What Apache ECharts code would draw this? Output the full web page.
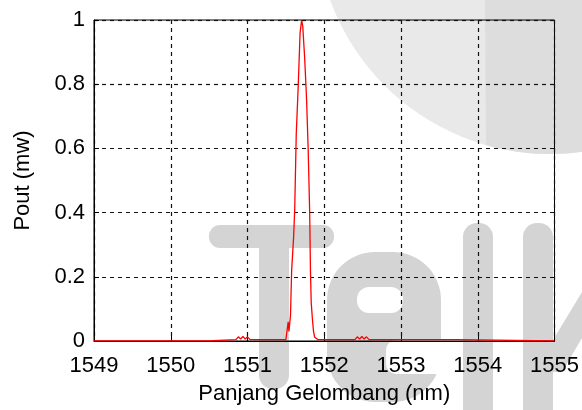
<!DOCTYPE html>
<html>
<head>
<meta charset="utf-8">
<script src="https://cdn.jsdelivr.net/npm/echarts@6/dist/echarts.min.js"></script>
<style>
html,body{margin:0;padding:0;background:#fff;}
#chart{width:582px;height:410px;}
</style>
</head>
<body>
<div id="chart"></div>
<script>
// ---- data ----
var wavelength = [1549, 1550.48, 1550.49, 1550.85, 1550.88, 1550.91, 1550.94, 1550.97, 1551.00, 1551.03, 1551.06,
  1551.50, 1551.52, 1551.53, 1551.54, 1551.56, 1551.575, 1551.60, 1551.615, 1551.635, 1551.66, 1551.685, 1551.705,
  1551.72, 1551.745, 1551.77, 1551.79, 1551.81, 1551.82, 1551.83, 1551.845, 1551.86, 1551.875, 1551.89, 1551.92,
  1552.40, 1552.43, 1552.46, 1552.49, 1552.52, 1552.55, 1552.58, 1552.61, 1553.73, 1553.74, 1555];
var power = [0, 0, 0.004, 0.004, 0.013, 0.006, 0.014, 0.006, 0.013, 0.005, 0.004,
  0.004, 0.01, 0.06, 0.03, 0.08, 0.22, 0.32, 0.41, 0.645, 0.79, 0.96, 1.0,
  0.98, 0.88, 0.75, 0.60, 0.40, 0.22, 0.12, 0.07, 0.03, 0.012, 0.006, 0.004,
  0.004, 0.013, 0.006, 0.014, 0.006, 0.013, 0.005, 0.004, 0.004, 0, 0];
var xTicks = [1549, 1550, 1551, 1552, 1553, 1554, 1555];
var yTicks = [0, 0.2, 0.4, 0.6, 0.8, 1];
var xName = 'Panjang Gelombang (nm)';
var yName = 'Pout (mw)';

var seriesData = wavelength.map(function (w, i) { return [w, power[i]]; });

// ---- watermark decoration ----
var wmLetter = '#d4d4d4';
var wmCircle = '#e9e9e9';
var wmDark = '#dddddd';
var cc = {cx: 550, cy: -80, r: 234};
var darkPts = [[485, 0], [582, 0]];
for (var x = 582; x >= 485; x -= 4) {
  darkPts.push([x, cc.cy + Math.sqrt(cc.r * cc.r - (x - cc.cx) * (x - cc.cx))]);
}
var graphics = [
  {type: 'circle', shape: {cx: cc.cx, cy: cc.cy, r: cc.r}, style: {fill: wmCircle}, z: -100, silent: true},
  {type: 'polygon', shape: {points: darkPts}, style: {fill: wmDark}, z: -99, silent: true},
  // T
  {type: 'rect', shape: {x: 209, y: 225, width: 125, height: 23, r: 11}, style: {fill: wmLetter}, z: -98, silent: true},
  {type: 'rect', shape: {x: 259, y: 225, width: 30, height: 164, r: 14}, style: {fill: wmLetter}, z: -98, silent: true},
  // e
  {type: 'rect', shape: {x: 327, y: 252, width: 114, height: 150, r: 48}, style: {fill: wmLetter}, z: -98, silent: true},
  {type: 'rect', shape: {x: 357, y: 287, width: 46, height: 26, r: 12}, style: {fill: '#ffffff'}, z: -97, silent: true},
  {type: 'rect', shape: {x: 386, y: 340, width: 60, height: 34, r: [10, 0, 0, 10]}, style: {fill: '#ffffff'}, z: -97, silent: true},
  // l
  {type: 'rect', shape: {x: 463, y: 223, width: 30, height: 200, r: 14}, style: {fill: wmLetter}, z: -98, silent: true},
  // k
  {type: 'rect', shape: {x: 523, y: 223, width: 30, height: 200, r: 14}, style: {fill: wmLetter}, z: -98, silent: true},
  {type: 'polygon', shape: {points: [[553, 340], [582, 292], [582, 338], [562, 372], [553, 372]]}, style: {fill: wmLetter}, z: -98, silent: true}
];

var font = 'Liberation Sans, Arial, sans-serif';
var chart = echarts.init(document.getElementById('chart'), null, {renderer: 'canvas'});
chart.setOption({
  animation: false,
  backgroundColor: '#ffffff',
  graphic: graphics,
  grid: {left: 94, top: 20, width: 463, height: 324, show: true, borderColor: '#000', borderWidth: 1, backgroundColor: 'transparent'},
  xAxis: {
    type: 'value', min: xTicks[0], max: xTicks[xTicks.length - 1], interval: 1,
    name: xName, nameLocation: 'middle', nameGap: 42,
    nameTextStyle: {color: '#000', fontSize: 22, fontFamily: font},
    axisLine: {lineStyle: {color: '#000', width: 1}},
    axisTick: {inside: true, length: 5, lineStyle: {color: '#000'}},
    axisLabel: {color: '#000', fontSize: 22, fontFamily: font, margin: 14, showMinLabel: true, showMaxLabel: true,
      formatter: function (v) { return String(v); }},
    splitLine: {show: true, lineStyle: {color: '#111', type: [4, 4], width: 1.2}}
  },
  yAxis: {
    type: 'value', min: yTicks[0], max: yTicks[yTicks.length - 1], interval: 0.2,
    name: yName, nameLocation: 'middle', nameGap: 60,
    nameTextStyle: {color: '#000', fontSize: 22, fontFamily: font},
    axisLine: {show: true, lineStyle: {color: '#000', width: 1}},
    axisTick: {show: true, inside: true, length: 5, lineStyle: {color: '#000'}},
    axisLabel: {color: '#000', fontSize: 22, fontFamily: font, margin: 9,
      formatter: function (v) { return String(Math.round(v * 10) / 10); }},
    splitLine: {show: true, lineStyle: {color: '#111', type: [4, 4], width: 1.2}}
  },
  series: [{
    type: 'line', data: seriesData, showSymbol: false, symbol: 'none',
    lineStyle: {color: '#ff0000', width: 1.3}, z: 3
  }]
});
</script>
</body>
</html>
